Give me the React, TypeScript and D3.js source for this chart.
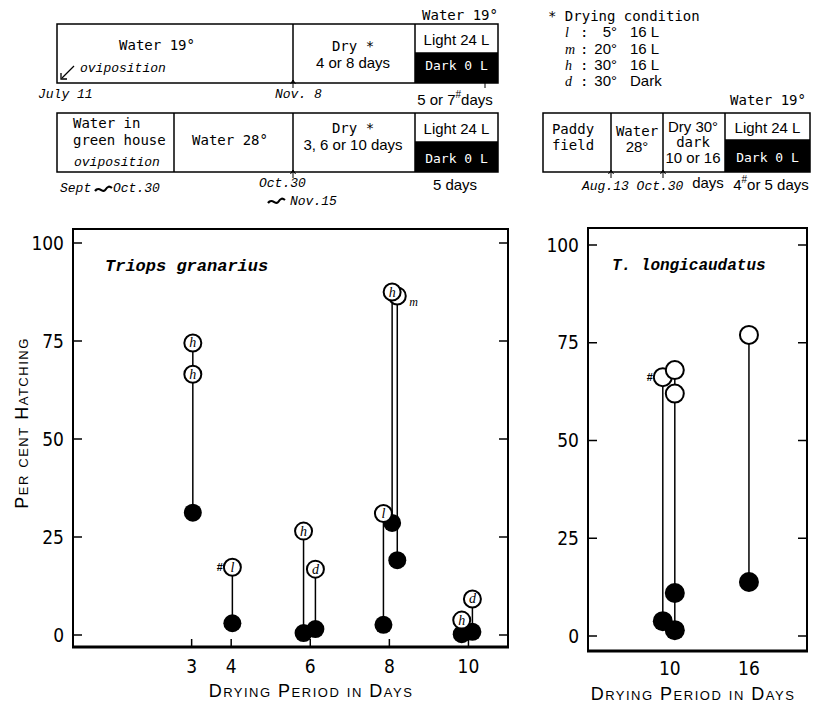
import React from "react";
import * as d3 from "d3";

// Triops granarius: one stem per treatment, open = light 24 L, filled = dark 0 L
const TG_DAY = [3.03, 4.03, 5.83, 6.13, 7.85, 8.2, 8.07, 9.83, 10.1];
const TG_OPEN = [[74.5, 66.5], [17.3], [26.5], [16.8], [31.0], [86.5], [87.5], [3.8], [9.2]];
const TG_CODE = [["h", "h"], ["l"], ["h"], ["d"], ["l"], ["m"], ["h"], ["h"], ["d"]];
const TG_DARK = [[31.2], [3.0], [0.5], [1.5], [2.6], [19.1], [28.6], [0.2], [0.8]];
const TG_HASH = [false, true, false, false, false, false, false, false, false];
const TG_TICKS = [3, 4, 6, 8, 10];

// T. longicaudatus
const TL_DAY = [9.47, 10.38, 16];
const TL_OPEN = [[66.2], [68, 62], [77]];
const TL_CODE = [[""], ["", ""], [""]];
const TL_DARK = [[3.8], [11, 1.5], [13.8]];
const TL_HASH = [true, false, false];
const TL_TICKS = [10, 16];

const Y_TICKS = [0, 25, 50, 75, 100];

const MONO = "'DejaVu Sans Mono', 'Liberation Mono', monospace";
const IMONO = "'Liberation Mono', 'DejaVu Sans Mono', monospace";
const SANS = "'Liberation Sans', Arial, sans-serif";
const NARROW = "'Liberation Sans Narrow', 'DejaVu Sans Condensed', 'Liberation Sans', sans-serif";
const SERIF = "'Liberation Serif', 'DejaVu Serif', serif";

interface PanelProps {
  days: number[];
  open: number[][];
  codes: string[][];
  dark: number[][];
  hash: boolean[];
  xTicks: number[];
  xDomain: [number, number];
  box: { x0: number; x1: number; top: number; bottom: number; y0: number; y100: number };
  title: string;
  titleX: number;
  titleSize: number;
  rOpen: number;
  rDark: number;
  bottomTicks: boolean;
  tickLabelY: number;
  xTitleX: number;
  xTitleY: number;
}

const Panel: React.FC<PanelProps> = p => {
  const { box } = p;
  const x = d3.scaleLinear().domain(p.xDomain).range([box.x0, box.x1]);
  const y = d3.scaleLinear().domain([0, 100]).range([box.y0, box.y100]);
  const open = p.days.flatMap((d, i) => p.open[i].map((v, j) => ({ d, v, c: p.codes[i][j], hash: p.hash[i] && j === 0 })));
  const dark = p.days.flatMap((d, i) => p.dark[i].map(v => ({ d, v })));
  return (
    <g>
      {/* frame */}
      <rect x={box.x0} y={box.top} width={box.x1 - box.x0} height={box.bottom - box.top}
        fill="none" stroke="#000" strokeWidth={2} />
      <line x1={box.x0 - 1} x2={box.x1 + 1} y1={box.bottom} y2={box.bottom} stroke="#000" strokeWidth={3} />
      {Y_TICKS.map(t => (
        <g key={t}>
          <line x1={box.x0} x2={box.x0 + 9} y1={y(t)} y2={y(t)} stroke="#000" strokeWidth={1.5} />
          <line x1={box.x1} x2={box.x1 - 9} y1={y(t)} y2={y(t)} stroke="#000" strokeWidth={1.5} />
          <text x={box.x0 - 9} y={y(t) + 6.5} textAnchor="end" fontFamily={NARROW} fontSize={19}>{t}</text>
        </g>
      ))}
      {p.xTicks.map(t => (
        <g key={t}>
          {p.bottomTicks && <line x1={x(t)} x2={x(t)} y1={box.bottom} y2={box.bottom - 8} stroke="#000" strokeWidth={1.5} />}
          <text x={x(t)} y={p.tickLabelY} textAnchor="middle" fontFamily={NARROW} fontSize={19}>{t}</text>
        </g>
      ))}
      <text x={p.titleX} y={box.top + 42} fontFamily={IMONO} fontStyle="italic" fontWeight="bold"
        fontSize={p.titleSize}>{p.title}</text>
      <text x={p.xTitleX} y={p.xTitleY} textAnchor="middle" fontFamily={SANS} fontSize={18}
        style={{ fontVariant: "small-caps" }} letterSpacing={1.5}>Drying Period in Days</text>

      {/* stems */}
      {p.days.map((d, i) => {
        const vals = [...p.open[i], ...p.dark[i]];
        return <line key={i} x1={x(d)} x2={x(d)} y1={y(d3.max(vals)!)} y2={y(d3.min(vals)!)}
          stroke="#000" strokeWidth={1.5} />;
      })}
      {dark.map((o, i) => <circle key={i} cx={x(o.d)} cy={y(o.v)} r={p.rDark} fill="#000" />)}
      {open.map((o, i) => (
        <g key={i}>
          <circle cx={x(o.d)} cy={y(o.v)} r={p.rOpen} fill="#fff" stroke="#000" strokeWidth={2} />
          {o.c && o.c !== "m" && (
            <text x={x(o.d)} y={y(o.v) + 4.5} textAnchor="middle" fontFamily={SERIF} fontStyle="italic"
              fontSize={14}>{o.c}</text>
          )}
          {o.c === "m" && (
            <text x={x(o.d) + 12} y={y(o.v) + 10} fontFamily={SERIF} fontStyle="italic" fontSize={12}>m</text>
          )}
          {o.hash && (
            <text x={x(o.d) - p.rOpen - 1} y={y(o.v) + 4} textAnchor="end" fontFamily={SANS}
              fontWeight="bold" fontSize={11}>#</text>
          )}
        </g>
      ))}
    </g>
  );
};

const Arrow: React.FC<{ x: number; y: number }> = ({ x, y }) => (
  <g>
    <line x1={x} x2={x} y1={y} y2={y + 8} stroke="#000" strokeWidth={1} />
    <path d={`M${x - 2.5},${y + 4} L${x},${y} L${x + 2.5},${y + 4}`} fill="none" stroke="#000" strokeWidth={1} />
  </g>
);

const Tilde: React.FC<{ x: number; y: number; w: number }> = ({ x, y, w }) => (
  <path d={`M${x},${y + 2} C${x + w * 0.25},${y - 4} ${x + w * 0.45},${y + 5} ${x + w * 0.6},${y + 1} S${x + w * 0.85},${y - 3} ${x + w},${y - 1}`}
    fill="none" stroke="#000" strokeWidth={2.2} />
);

const LightDark: React.FC<{ x: number; y: number; w: number; h: number; split: number; lightY: number; darkY: number }> =
  ({ x, y, w, h, split, lightY, darkY }) => (
    <g>
      <rect x={x} y={split} width={w} height={y + h - split} fill="#000" />
      <line x1={x} x2={x + w} y1={split} y2={split} stroke="#000" strokeWidth={1.5} />
      <text x={x + w / 2} y={lightY} textAnchor="middle" fontFamily={SANS} fontSize={15}>Light 24 L</text>
      <text x={x + w / 2} y={darkY} textAnchor="middle" fontFamily={MONO} fontSize={13} fill="#fff">Dark 0 L</text>
    </g>
  );

const Schematic: React.FC = () => (
  <g fontFamily={MONO} fontSize={14}>
    {/* row 1 */}
    <text x={460} y={20} textAnchor="middle">Water 19°</text>
    <rect x={57} y={24} width={441} height={59} fill="none" stroke="#000" strokeWidth={1.5} />
    <line x1={293} x2={293} y1={24} y2={83} stroke="#000" strokeWidth={1.5} />
    <line x1={415} x2={415} y1={24} y2={83} stroke="#000" strokeWidth={1.5} />
    <LightDark x={415} y={24} w={83} h={59} split={53} lightY={45} darkY={70} />
    <text x={157} y={50} textAnchor="middle">Water 19°</text>
    <text x={80} y={72} fontFamily={IMONO} fontStyle="italic" fontSize={13}>oviposition</text>
    <line x1={74} x2={62} y1={66} y2={78} stroke="#000" strokeWidth={1.3} />
    <path d="M61,73 L61,79 L67,79" fill="none" stroke="#000" strokeWidth={1.3} />
    <text x={38} y={98} fontFamily={IMONO} fontStyle="italic" fontSize={13}>July 11</text>
    <text x={275} y={98} fontFamily={IMONO} fontStyle="italic" fontSize={13}>Nov. 8</text>
    <Arrow x={293} y={80} />
    <text x={353} y={51} textAnchor="middle">Dry *</text>
    <text x={353} y={68} textAnchor="middle" fontFamily={SANS} fontSize={15}>4 or 8 days</text>
    <line x1={485} x2={485} y1={80} y2={88} stroke="#000" strokeWidth={1} />
    <text x={455} y={105} textAnchor="middle" fontFamily={SANS} fontSize={15}>
      5 or 7<tspan dy={-7} fontSize={10}>#</tspan><tspan dy={7}>days</tspan>
    </text>

    {/* row 2 */}
    <rect x={57} y={113} width={441} height={59} fill="none" stroke="#000" strokeWidth={1.5} />
    <line x1={174} x2={174} y1={113} y2={172} stroke="#000" strokeWidth={1.5} />
    <line x1={293} x2={293} y1={113} y2={172} stroke="#000" strokeWidth={1.5} />
    <line x1={415} x2={415} y1={113} y2={172} stroke="#000" strokeWidth={1.5} />
    <LightDark x={415} y={113} w={83} h={59} split={142} lightY={134} darkY={163} />
    <text x={73} y={128}>Water in</text>
    <text x={73} y={145}>green house</text>
    <text x={74} y={166} fontFamily={IMONO} fontStyle="italic" fontSize={13}>oviposition</text>
    <text x={230} y={145} textAnchor="middle">Water 28°</text>
    <text x={353} y={133} textAnchor="middle">Dry *</text>
    <text x={353} y={150} textAnchor="middle" fontFamily={SANS} fontSize={15}>3, 6 or 10 days</text>
    <text x={60} y={192} fontFamily={IMONO} fontStyle="italic" fontSize={13}>Sept</text>
    <Tilde x={95} y={189} w={17} />
    <text x={113} y={192} fontFamily={IMONO} fontStyle="italic" fontSize={13}>Oct.30</text>
    <text x={259} y={187} fontFamily={IMONO} fontStyle="italic" fontSize={13}>Oct.30</text>
    <Arrow x={293} y={170} />
    <Tilde x={268} y={201} w={17} />
    <text x={290} y={205} fontFamily={IMONO} fontStyle="italic" fontSize={13}>Nov.15</text>
    <text x={455} y={190} textAnchor="middle" fontFamily={SANS} fontSize={15}>5 days</text>

    {/* legend */}
    <text x={548} y={21}>* Drying condition</text>
    {[["l", "5°", "16 L", 37], ["m", "20°", "16 L", 54], ["h", "30°", "16 L", 70], ["d", "30°", "Dark", 86]].map(r => (
      <g key={r[0] as string}>
        <text x={565} y={r[3] as number} fontFamily={SERIF} fontStyle="italic" fontSize={14}>{r[0]}</text>
        <text x={580} y={r[3] as number}>:</text>
        <text x={617} y={r[3] as number} textAnchor="end" fontFamily={SANS} fontSize={15}>{r[1]}</text>
        <text x={630} y={r[3] as number} fontFamily={SANS} fontSize={15}>{r[2]}</text>
      </g>
    ))}

    {/* row 3 (T. longicaudatus) */}
    <text x={768} y={105} textAnchor="middle">Water 19°</text>
    <rect x={543} y={113} width={267} height={59} fill="none" stroke="#000" strokeWidth={1.5} />
    <line x1={611} x2={611} y1={113} y2={172} stroke="#000" strokeWidth={1.5} />
    <line x1={663} x2={663} y1={113} y2={172} stroke="#000" strokeWidth={1.5} />
    <line x1={725} x2={725} y1={113} y2={172} stroke="#000" strokeWidth={1.5} />
    <LightDark x={725} y={113} w={85} h={59} split={140} lightY={133} darkY={162} />
    <text x={573} y={134} textAnchor="middle">Paddy</text>
    <text x={573} y={150} textAnchor="middle">field</text>
    <text x={637} y={136} textAnchor="middle">Water</text>
    <text x={637} y={152} textAnchor="middle" fontFamily={SANS} fontSize={15}>28°</text>
    <text x={693} y={132} textAnchor="middle" fontFamily={SANS} fontSize={15}>Dry 30°</text>
    <text x={693} y={147} textAnchor="middle">dark</text>
    <text x={693} y={163} textAnchor="middle" fontFamily={SANS} fontSize={15}>10 or 16</text>
    <Arrow x={611} y={170} />
    <Arrow x={663} y={170} />
    <text x={582} y={190} fontFamily={IMONO} fontStyle="italic" fontSize={13}>Aug.13 Oct.30</text>
    <text x={708} y={188} textAnchor="middle" fontFamily={SANS} fontSize={15}>days</text>
    <text x={771} y={190} textAnchor="middle" fontFamily={SANS} fontSize={15}>
      4<tspan dy={-7} fontSize={10}>#</tspan><tspan dy={7}>or 5 days</tspan>
    </text>
  </g>
);

export default function App() {
  return (
    <svg width={821} height={704} style={{ position: "absolute", left: 0, top: 0, background: "#fff" }}>
      <Schematic />
      <Panel days={TG_DAY} open={TG_OPEN} codes={TG_CODE} dark={TG_DARK} hash={TG_HASH}
        xTicks={TG_TICKS} xDomain={[0, 11]}
        box={{ x0: 73, x1: 508, top: 229, bottom: 647, y0: 635, y100: 243 }}
        title="Triops granarius" titleX={105} titleSize={17} rOpen={8.5} rDark={9}
        bottomTicks={true} tickLabelY={673} xTitleX={311} xTitleY={697} />
      <Panel days={TL_DAY} open={TL_OPEN} codes={TL_CODE} dark={TL_DARK} hash={TL_HASH}
        xTicks={TL_TICKS} xDomain={[3.8, 20.4]}
        box={{ x0: 588, x1: 807, top: 228, bottom: 651, y0: 636, y100: 245 }}
        title="T. longicaudatus" titleX={612} titleSize={16} rOpen={9} rDark={10}
        bottomTicks={false} tickLabelY={675} xTitleX={693} xTitleY={700} />
      <text transform="translate(28,423) rotate(-90)" textAnchor="middle" fontFamily={SANS} fontSize={18}
        style={{ fontVariant: "small-caps" }} letterSpacing={1.5}>Per cent Hatching</text>
    </svg>
  );
}
